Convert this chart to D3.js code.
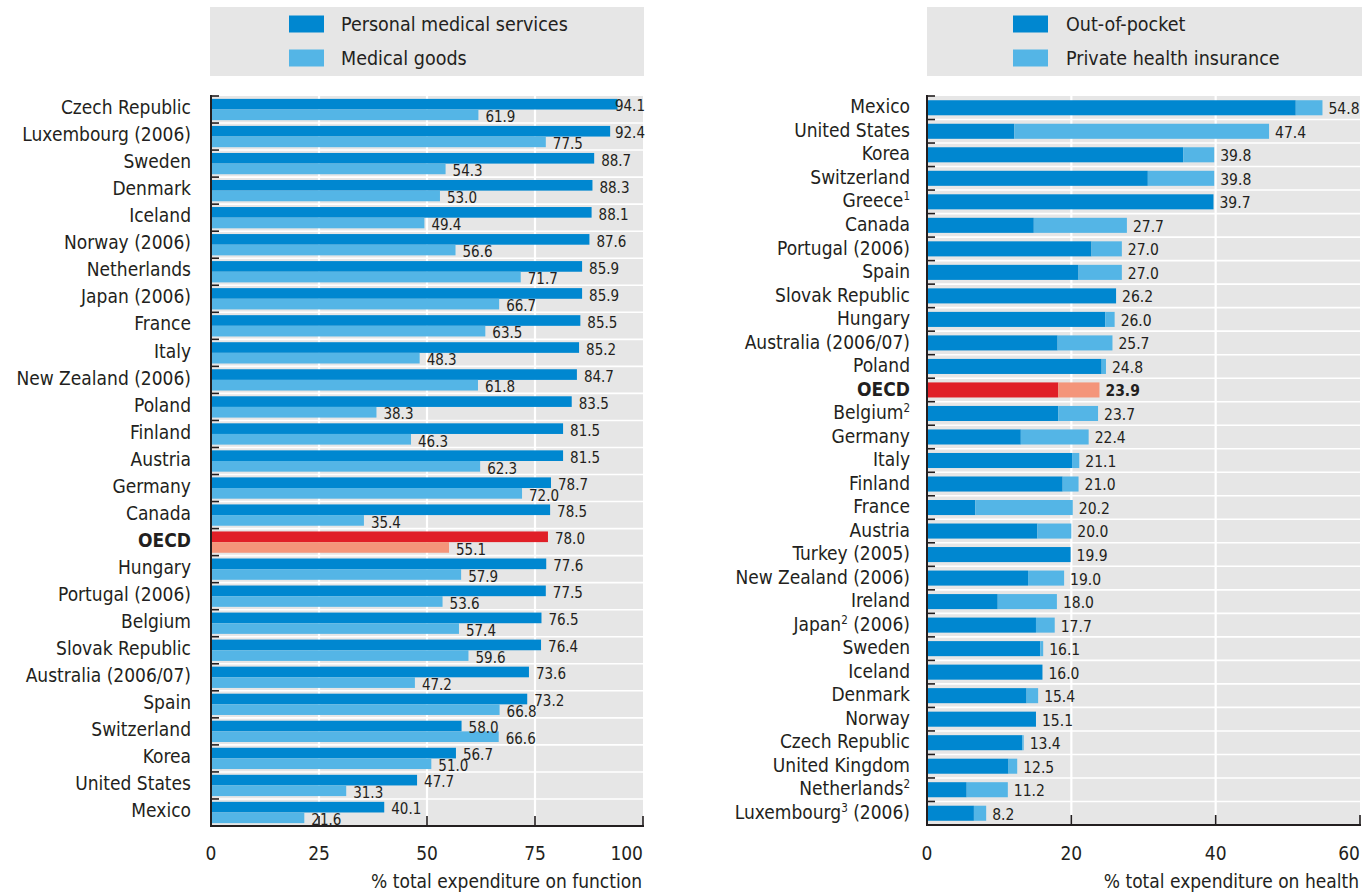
<!DOCTYPE html>
<html>
<head>
<meta charset="utf-8">
<script src="https://cdn.jsdelivr.net/npm/d3@7"></script>
<style>
  html, body { margin: 0; padding: 0; background: #ffffff; }
  svg { display: block; }
  text { font-family: "Liberation Sans Narrow", "Arial Narrow", "DejaVu Sans Condensed", sans-serif; fill: #231f20; }
</style>
</head>
<body>
<svg id="chart" width="1370" height="894"></svg>
<script>
// ---------- Left panel data ----------
const leftCountries = ["Czech Republic","Luxembourg (2006)","Sweden","Denmark","Iceland","Norway (2006)","Netherlands","Japan (2006)","France","Italy","New Zealand (2006)","Poland","Finland","Austria","Germany","Canada","OECD","Hungary","Portugal (2006)","Belgium","Slovak Republic","Australia (2006/07)","Spain","Switzerland","Korea","United States","Mexico"];
const personalServices = [94.1,92.4,88.7,88.3,88.1,87.6,85.9,85.9,85.5,85.2,84.7,83.5,81.5,81.5,78.7,78.5,78.0,77.6,77.5,76.5,76.4,73.6,73.2,58.0,56.7,47.7,40.1];
const medicalGoods = [61.9,77.5,54.3,53.0,49.4,56.6,71.7,66.7,63.5,48.3,61.8,38.3,46.3,62.3,72.0,35.4,55.1,57.9,53.6,57.4,59.6,47.2,66.8,66.6,51.0,31.3,21.6];
const leftSeries = ["Personal medical services","Medical goods"];
const leftTicks = [0,25,50,75,100];
const leftAxisTitle = "% total expenditure on function";

// ---------- Right panel data ----------
const rightCountries = ["Mexico","United States","Korea","Switzerland","Greece|1","Canada","Portugal (2006)","Spain","Slovak Republic","Hungary","Australia (2006/07)","Poland","OECD","Belgium|2","Germany","Italy","Finland","France","Austria","Turkey (2005)","New Zealand (2006)","Ireland","Japan|2| (2006)","Sweden","Iceland","Denmark","Norway","Czech Republic","United Kingdom","Netherlands|2","Luxembourg|3| (2006)"];
const outOfPocket = [51.1,12.1,35.5,30.6,39.7,14.8,22.8,21.0,26.2,24.7,18.1,24.2,18.2,18.2,13.0,20.1,18.8,6.7,15.3,19.9,14.0,9.8,15.1,15.7,16.0,13.8,15.1,13.2,11.3,5.5,6.5];
const privateInsurance = [3.7,35.3,4.3,9.2,0.0,12.9,4.2,6.0,0.0,1.3,7.6,0.6,5.7,5.5,9.4,1.0,2.2,13.5,4.7,0.0,5.0,8.2,2.6,0.4,0.0,1.6,0.0,0.2,1.2,5.7,1.7];
const rightSeries = ["Out-of-pocket","Private health insurance"];
const rightTicks = [0,20,40,60];
const rightAxisTitle = "% total expenditure on health";

// ---------- Styles ----------
const C = {
  dark: "#0087d0",
  light: "#54b5e6",
  oecdDark: "#e01f27",
  oecdLight: "#f4957a",
  bg: "#e6e6e6",
  axis: "#231f20"
};
const fmt = d3.format(".1f");
const svg = d3.select("#chart");

function legend(x0, x1, swX, txX, labels) {
  const g = svg.append("g");
  g.append("rect").attr("x", x0).attr("y", 7).attr("width", x1 - x0).attr("height", 69).attr("fill", C.bg);
  const ys = [24, 58];
  labels.forEach((lab, i) => {
    g.append("rect").attr("x", swX).attr("y", ys[i] - 8.5).attr("width", 35).attr("height", 17)
      .attr("fill", i === 0 ? C.dark : C.light);
    g.append("text").attr("x", txX).attr("y", ys[i]).attr("dy", "0.35em")
      .attr("font-size", 19.5).text(lab);
  });
}

function frame(x, y, ticks, title) {
  const [x0, x1] = x.range();
  const [y0, y1] = y.range();
  const g = svg.append("g");
  g.append("line").attr("x1", x0).attr("x2", x1 + 1).attr("y1", y1).attr("y2", y1)
    .attr("stroke", C.axis).attr("stroke-width", 2);
  g.append("line").attr("x1", x0).attr("x2", x0).attr("y1", y0 - 1).attr("y2", y1 + 1)
    .attr("stroke", C.axis).attr("stroke-width", 2);
  ticks.forEach((t, i) => {
    if (i === 0) return;
    g.append("line").attr("x1", x(t)).attr("x2", x(t)).attr("y1", y1).attr("y2", y1 - 10)
      .attr("stroke", C.axis).attr("stroke-width", 1.6);
  });
  ticks.forEach((t, i) => {
    const last = i === ticks.length - 1;
    g.append("text").attr("x", x(t)).attr("y", 853).attr("dy", "0.35em")
      .attr("text-anchor", last ? "end" : "middle")
      .attr("font-size", 19).text(t);
  });
  g.append("text").attr("x", x1 - 1).attr("y", 881).attr("dy", "0.35em")
    .attr("text-anchor", "end").attr("font-size", 19).text(title);
}

function background(x, y, ticks, cats) {
  const [x0, x1] = x.range();
  const [y0, y1] = y.range();
  const g = svg.append("g");
  g.append("rect").attr("x", x0).attr("y", y0).attr("width", x1 - x0).attr("height", y1 - y0).attr("fill", C.bg);
  ticks.slice(1, -1).forEach(t => {
    g.append("line").attr("x1", x(t)).attr("x2", x(t)).attr("y1", y0).attr("y2", y1)
      .attr("stroke", "#ffffff").attr("stroke-width", 2.2);
  });
  cats.forEach((c, i) => {
    if (i === 0) return;
    const yy = y(c);
    g.append("line").attr("x1", x0).attr("x2", x1).attr("y1", yy).attr("y2", yy)
      .attr("stroke", "#ffffff").attr("stroke-width", 1.6);
  });
}

function rowTicks(x, y, cats) {
  const x0 = x.range()[0];
  const g = svg.append("g");
  cats.forEach(c => {
    g.append("line").attr("x1", x0).attr("x2", x0 + 8).attr("y1", y(c)).attr("y2", y(c))
      .attr("stroke", C.axis).attr("stroke-width", 1.6);
  });
}

function catLabel(g, xPos, yPos, raw) {
  const bold = raw === "OECD";
  const t = g.append("text").attr("x", xPos).attr("y", yPos).attr("dy", "0.35em")
    .attr("text-anchor", "end").attr("font-size", 19)
    .attr("font-weight", bold ? "bold" : "normal");
  const parts = raw.split("|");
  t.append("tspan").text(parts[0]);
  if (parts.length > 1) {
    t.append("tspan").attr("font-size", 11.5).attr("dy", -7).text(parts[1]);
    if (parts.length > 2) t.append("tspan").attr("dy", 7).text(parts[2]);
  }
}

// ---------- Left panel ----------
(function () {
  const x = d3.scaleLinear().domain([leftTicks[0], leftTicks[leftTicks.length - 1]]).range([211, 643]);
  const y = d3.scaleBand().domain(leftCountries).range([96, 826]);
  const inner = d3.scaleBand().domain(leftSeries).range([0, y.bandwidth()]).paddingOuter(0.27);
  legend(210, 644, 289, 341, leftSeries);
  background(x, y, leftTicks, leftCountries);

  const g = svg.append("g");
  const rows = leftCountries.map((c, i) => ({ c, vals: [personalServices[i], medicalGoods[i]] }));
  rows.forEach(r => {
    const isO = r.c === "OECD";
    r.vals.forEach((v, k) => {
      const s = leftSeries[k];
      g.append("rect").attr("x", x(0)).attr("y", y(r.c) + inner(s))
        .attr("width", x(v) - x(0)).attr("height", inner.bandwidth())
        .attr("fill", isO ? (k === 0 ? C.oecdDark : C.oecdLight) : (k === 0 ? C.dark : C.light));
    });
  });
  rowTicks(x, y, leftCountries);
  frame(x, y, leftTicks, leftAxisTitle);

  const lg = svg.append("g");
  rows.forEach(r => {
    r.vals.forEach((v, k) => {
      const s = leftSeries[k];
      const t = lg.append("text").attr("y", y(r.c) + inner(s) + inner.bandwidth() / 2 + 2).attr("dy", "0.35em")
        .attr("font-size", 15).text(fmt(v));
      const w = t.node().getComputedTextLength();
      let xs = x(v) + 7;
      if (xs + w > 645) xs = 645 - w;
      t.attr("x", xs);
    });
  });

  const cg = svg.append("g");
  leftCountries.forEach(c => catLabel(cg, 191, y(c) + y.bandwidth() / 2 - 2, c));
})();

// ---------- Right panel ----------
(function () {
  const x = d3.scaleLinear().domain([rightTicks[0], rightTicks[rightTicks.length - 1]]).range([927, 1360]);
  const y = d3.scaleBand().domain(rightCountries).range([96, 825]).paddingInner(0.36).paddingOuter(0.18);
  const yb = d3.scaleBand().domain(rightCountries).range([96, 825]);
  legend(927, 1362, 1013, 1066, rightSeries);
  background(x, yb, rightTicks, rightCountries);

  const g = svg.append("g");
  const stackData = rightCountries.map((c, i) => ({ c, oop: outOfPocket[i], pvt: privateInsurance[i] }));
  const stack = d3.stack().keys(["oop", "pvt"])(stackData);
  stack.forEach((layer, k) => {
    layer.forEach(d => {
      if (d[1] - d[0] <= 0) return;
      const isO = d.data.c === "OECD";
      g.append("rect").attr("x", x(d[0])).attr("y", y(d.data.c))
        .attr("width", x(d[1]) - x(d[0])).attr("height", y.bandwidth())
        .attr("fill", isO ? (k === 0 ? C.oecdDark : C.oecdLight) : (k === 0 ? C.dark : C.light));
    });
  });
  rowTicks(x, yb, rightCountries);
  frame(x, yb, rightTicks, rightAxisTitle);

  const lg = svg.append("g");
  stackData.forEach(d => {
    const total = d.oop + d.pvt;
    lg.append("text").attr("x", x(total) + 6).attr("y", y(d.c) + y.bandwidth() / 2 + 1).attr("dy", "0.35em")
      .attr("font-size", 15.5).attr("font-weight", d.c === "OECD" ? "bold" : "normal")
      .text(fmt(total));
  });

  const cg = svg.append("g");
  rightCountries.forEach(c => catLabel(cg, 910, yb(c) + yb.bandwidth() / 2 - 1, c));
})();
</script>
</body>
</html>
